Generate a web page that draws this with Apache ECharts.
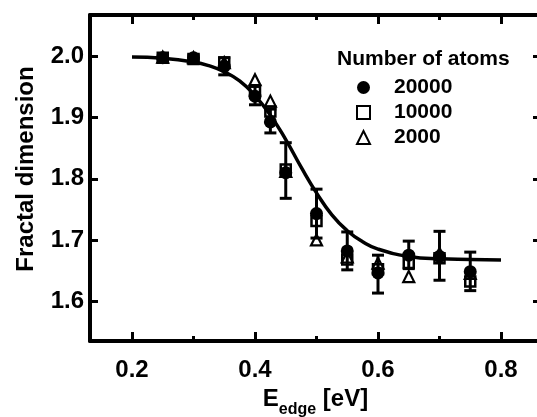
<!DOCTYPE html>
<html>
<head>
<meta charset="utf-8">
<script src="https://cdn.jsdelivr.net/npm/echarts@6/dist/echarts.min.js"></script>
<style>
html,body{margin:0;padding:0;background:#fff;}
#chart{width:537px;height:417px;}
</style>
</head>
<body>
<div id="chart"></div>
<script>
// ---- data ----
const xValues = [0.25, 0.3, 0.35, 0.4, 0.425, 0.45, 0.5, 0.55, 0.6, 0.65, 0.7, 0.75];
const atoms20000 = [1.998, 1.998, 1.984, 1.935, 1.893, 1.810, 1.743, 1.682, 1.646, 1.675, 1.673, 1.648];
const err20000Low = [1.995, 1.994, 1.970, 1.921, 1.875, 1.768, 1.703, 1.651, 1.613, 1.653, 1.634, 1.617];
const err20000High = [2.001, 2.002, 1.998, 1.951, 1.914, 1.859, 1.783, 1.713, 1.675, 1.698, 1.714, 1.680];
const atoms10000 = [1.998, 1.996, 1.990, 1.945, 1.910, 1.815, 1.731, 1.668, 1.652, 1.662, 1.670, 1.632];
const atoms2000 = [1.999, 1.998, 1.990, 1.962, 1.927, 1.812, 1.700, 1.672, 1.662, 1.640, 1.678, 1.645];
const fitX = [0.2, 0.25, 0.3, 0.325, 0.35, 0.375, 0.4, 0.425, 0.45, 0.475, 0.5, 0.525, 0.55, 0.575, 0.6, 0.65, 0.7, 0.75, 0.8];
const fitY = [1.999, 1.997, 1.991, 1.985, 1.975, 1.960, 1.936, 1.904, 1.864, 1.819, 1.777, 1.741, 1.715, 1.697, 1.685, 1.673, 1.669, 1.668, 1.667];
const xMajorTicks = [0.2, 0.4, 0.6, 0.8];
const xMinorTicks = [0.3, 0.5, 0.7];
const yTicks = [1.6, 1.7, 1.8, 1.9, 2.0];
const seriesNames = ['20000', '10000', '2000'];

const FONT = "'Liberation Sans', Arial, Helvetica, sans-serif";
const X_MIN = 0.13171, X_MAX = 0.86504;
const Y_MIN = 1.5346, Y_MAX = 2.0679;

function pairs(xs, ys) { return xs.map((x, i) => [x, ys[i]]); }

const chart = echarts.init(document.getElementById('chart'), null, {renderer: 'canvas'});

function xAxisDef(pos, ticks, len, showLine, showLabel, extra) {
  return Object.assign({
    type: 'value', position: pos, min: X_MIN, max: X_MAX,
    axisLine: {show: showLine, onZero: false, lineStyle: {color: '#000', width: 4}},
    axisTick: {show: true, inside: true, length: len, customValues: ticks, lineStyle: {color: '#000', width: 3}},
    axisLabel: showLabel ? {show: true, customValues: ticks, margin: 17, color: '#000', fontSize: 24, fontWeight: 'bold', fontFamily: FONT,
      formatter: v => Number(v).toFixed(1)} : {show: false},
    splitLine: {show: false}
  }, extra || {});
}
function yAxisDef(pos, showLabel, extra) {
  return Object.assign({
    type: 'value', position: pos, min: Y_MIN, max: Y_MAX,
    axisLine: {show: true, onZero: false, lineStyle: {color: '#000', width: 4}},
    axisTick: {show: true, inside: true, length: 8, customValues: yTicks, lineStyle: {color: '#000', width: 3}},
    axisLabel: showLabel ? {show: true, customValues: yTicks, margin: 6, color: '#000', fontSize: 24, fontWeight: 'bold', fontFamily: FONT,
      formatter: v => Number(v).toFixed(1)} : {show: false},
    splitLine: {show: false}
  }, extra || {});
}

const option = {
  animation: false,
  backgroundColor: '#fff',
  textStyle: {fontFamily: FONT},
  grid: {left: 90, top: 15, width: 451, height: 326, containLabel: false, outerBoundsMode: 'none'},
  title: {
    text: 'Number of atoms', left: 332, top: 44,
    textStyle: {fontSize: 21, fontWeight: 'bold', color: '#000', fontFamily: FONT}
  },
  legend: {
    data: seriesNames, orient: 'vertical', left: 351, top: 72,
    itemWidth: 13, itemHeight: 13, itemGap: 4,
    textStyle: {fontSize: 21, fontWeight: 'bold', color: '#000', fontFamily: FONT, padding: [0, 0, 0, 19], lineHeight: 21}
  },
  xAxis: [
    xAxisDef('bottom', xMajorTicks, 9, true, true, {
      name: '{e|E}{s|edge}{n| [eV]}', nameLocation: 'middle', nameGap: 46,
      nameTextStyle: {
        rich: {
          e: {fontSize: 24, fontWeight: 'bold', fontFamily: FONT, color: '#000', lineHeight: 28, verticalAlign: 'top'},
          s: {fontSize: 16, fontWeight: 'bold', fontFamily: FONT, color: '#000', lineHeight: 16, padding: [15, 0, 0, 0], verticalAlign: 'top'},
          n: {fontSize: 24, fontWeight: 'bold', fontFamily: FONT, color: '#000', lineHeight: 28, verticalAlign: 'top'}
        }
      }
    }),
    xAxisDef('bottom', xMinorTicks, 5, false, false),
    xAxisDef('top', xMajorTicks, 9, true, false),
    xAxisDef('top', xMinorTicks, 5, false, false)
  ],
  yAxis: [
    yAxisDef('left', true, {
      name: 'Fractal dimension', nameLocation: 'middle', nameRotate: 90, nameGap: 52,
      nameTextStyle: {fontSize: 24, fontWeight: 'bold', color: '#000', fontFamily: FONT, padding: [0, 0, 0, 18]}
    }),
    yAxisDef('right', false)
  ],
  series: [
    {
      name: 'fit', type: 'line', data: pairs(fitX, fitY), smooth: true, showSymbol: false, symbol: 'none',
      lineStyle: {color: '#000', width: 3.5}, z: 2, silent: true
    },
    {
      name: '20000', type: 'scatter', data: pairs(xValues, atoms20000), symbol: 'circle', symbolSize: 13,
      itemStyle: {color: '#000', opacity: 1}, z: 3
    },
    {
      name: '10000', type: 'scatter', data: pairs(xValues, atoms10000), symbol: 'rect', symbolSize: 10,
      itemStyle: {color: 'rgba(255,255,255,0)', borderColor: '#000', borderWidth: 2.5, opacity: 1}, z: 4
    },
    {
      name: '2000', type: 'scatter', data: pairs(xValues, atoms2000), symbol: 'triangle', symbolSize: 11,
      itemStyle: {color: 'rgba(255,255,255,0)', borderColor: '#000', borderWidth: 2.2, opacity: 1}, z: 5
    },
    {
      name: 'err', type: 'custom', z: 6, silent: true,
      data: xValues.map((x, i) => [x, err20000Low[i], err20000High[i]]),
      renderItem: function (params, api) {
        const lo = api.coord([api.value(0), api.value(1)]);
        const hi = api.coord([api.value(0), api.value(2)]);
        const hw = 6;
        const st = {stroke: '#000', lineWidth: 3, fill: null};
        return {
          type: 'group',
          children: [
            {type: 'line', shape: {x1: lo[0], y1: lo[1], x2: hi[0], y2: hi[1]}, style: st},
            {type: 'line', shape: {x1: lo[0] - hw, y1: lo[1], x2: lo[0] + hw, y2: lo[1]}, style: st},
            {type: 'line', shape: {x1: hi[0] - hw, y1: hi[1], x2: hi[0] + hw, y2: hi[1]}, style: st}
          ]
        };
      }
    }
  ]
};
chart.setOption(option);
</script>
</body>
</html>
